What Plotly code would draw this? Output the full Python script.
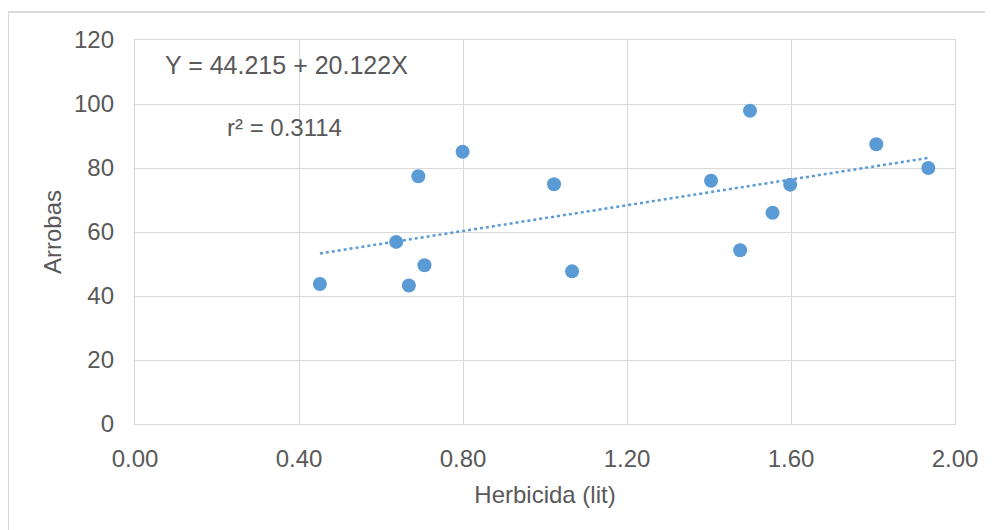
import plotly.graph_objects as go

herbicida = [0.451, 0.637, 0.668, 0.691, 0.706, 0.799, 1.022, 1.066, 1.405,
             1.476, 1.500, 1.555, 1.598, 1.808, 1.935]
arrobas = [43.75, 56.9, 43.3, 77.4, 49.6, 85.1, 74.9, 47.7, 76.0,
           54.3, 97.9, 66.0, 74.8, 87.4, 80.0]
intercept = 44.215
slope = 20.122
r2_text = "r² = 0.3114"
eq_text = "Y = 44.215 + 20.122X"
x_ticks = [0.0, 0.4, 0.8, 1.2, 1.6, 2.0]
x_tick_labels = ["0.00", "0.40", "0.80", "1.20", "1.60", "2.00"]
y_ticks = [0, 20, 40, 60, 80, 100, 120]

blue = "#5B9BD5"
grid = "#D9D9D9"
txt = "#595959"
font_family = "Liberation Sans, Arial, sans-serif"

x_fit = [min(herbicida), max(herbicida)]
y_fit = [intercept + slope * v for v in x_fit]

fig = go.Figure()
fig.add_trace(go.Scatter(x=x_fit, y=y_fit, mode="lines",
                         line=dict(color=blue, width=2.5, dash="dot"),
                         hoverinfo="skip", showlegend=False))
fig.add_trace(go.Scatter(x=herbicida, y=arrobas, mode="markers",
                         marker=dict(color=blue, size=14, line=dict(width=0)),
                         showlegend=False))

OFF = 8  # page body margin
W, H = 993 - OFF, 530 - OFF
L, R, T, B = 135 - OFF, 38, 40 - OFF, 106
pw, ph = W - L - R, H - T - B

def px_x(p):  # screen pixel -> paper
    return (p - OFF - L) / pw

def px_y(p):
    return (H - B - (p - OFF)) / ph

fig.update_layout(
    width=W, height=H,
    margin=dict(l=L, r=R, t=T, b=B),
    paper_bgcolor="white", plot_bgcolor="white",
    font=dict(family=font_family, size=24, color=txt),
    xaxis=dict(range=[0, 2], tickvals=x_ticks, ticktext=x_tick_labels,
               showgrid=True, gridcolor=grid, gridwidth=1.3,
               zeroline=False, showline=True, linecolor=grid, linewidth=1.3, mirror=True,
               ticks="outside", ticklen=13, tickcolor="rgba(0,0,0,0)",
               title=dict(text="Herbicida (lit)", font=dict(size=24, color=txt), standoff=15)),
    yaxis=dict(range=[0, 120], tickvals=y_ticks,
               showgrid=True, gridcolor=grid, gridwidth=1.3,
               zeroline=False, showline=True, linecolor=grid, linewidth=1.3, mirror=True,
               ticks="outside", ticklen=15, tickcolor="rgba(0,0,0,0)",
               title=dict(text="Arrobas", font=dict(size=24, color=txt), standoff=5)),
    annotations=[
        dict(x=px_x(163), y=px_y(65), xref="paper", yref="paper", text=eq_text,
             showarrow=False, xanchor="left", yanchor="middle",
             font=dict(size=25, color=txt)),
        dict(x=px_x(225), y=px_y(127), xref="paper", yref="paper", text=r2_text,
             showarrow=False, xanchor="left", yanchor="middle",
             font=dict(size=24, color=txt)),
    ],
    shapes=[
        dict(type="line", xref="paper", yref="paper",
             x0=px_x(8), x1=px_x(8), y0=px_y(12), y1=px_y(540),
             line=dict(color=grid, width=2)),
        dict(type="line", xref="paper", yref="paper",
             x0=px_x(8), x1=px_x(1000), y0=px_y(12), y1=px_y(12),
             line=dict(color=grid, width=2)),
    ],
)

fig.write_html("out.html")
